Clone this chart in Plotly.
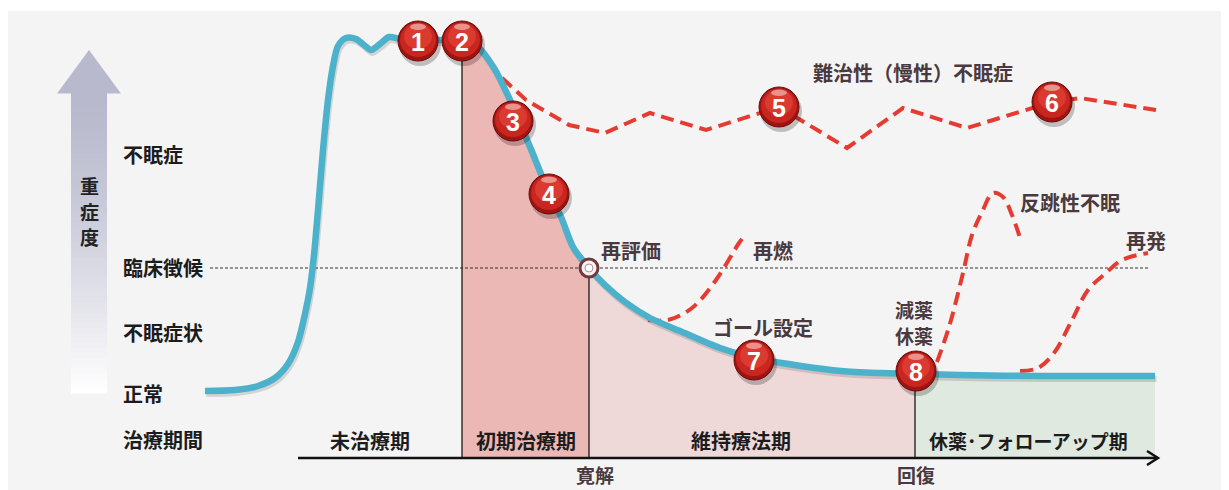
import plotly.graph_objects as go

# ---------------- data (pixel-space diagram coordinates) ----------------
# main severity curve (blue)
curve_x = [205, 235, 258, 275, 288, 298, 305, 310, 314, 318, 323, 328, 333, 338, 346, 356, 364, 371, 380, 389, 400, 420, 440, 462,
           478, 494, 510, 530, 549, 561, 573, 589, 605, 625, 650, 680, 720, 754, 801, 841, 880, 915, 960, 1040, 1155]
curve_y = [391, 390, 386, 378, 364, 342, 314, 288, 255, 210, 150, 100, 66, 46, 38, 39, 45, 50, 44, 37, 39, 40, 40, 41,
           47, 68, 100, 147, 193, 217, 247, 268, 285, 302, 318, 331, 348, 358, 366, 371, 373, 374, 375, 376, 376]

# chronic (refractory) insomnia dashed line
chronic_x = [502, 526, 569, 605, 650, 706, 779, 847, 903, 967, 1052, 1080, 1156]
chronic_y = [78, 100, 125, 133, 113, 130, 107, 148, 108, 128, 102, 98, 110]

# relapse (再燃)
relapse_x = [648, 668, 692, 716, 739, 745]
relapse_y = [320, 320, 308, 280, 243, 235]

# rebound insomnia (反跳性不眠)
rebound_x = [937, 949, 963, 972, 982, 993, 1003, 1012, 1020]
rebound_y = [362, 327, 273, 235, 212, 193, 197, 215, 238]

# recurrence (再発)
recur_x = [1020, 1038, 1054, 1072, 1088, 1106, 1122, 1148]
recur_y = [371, 368, 353, 320, 290, 273, 260, 253]

# numbered milestones
ball_labels = ["1", "2", "3", "4", "5", "6", "7", "8"]
ball_x = [418, 462, 513, 549, 779, 1052, 754, 916]
ball_y = [41, 41, 121, 194, 107, 102, 360, 371]

# severity levels (left labels)
level_labels = ["不眠症", "臨床徴候", "不眠症状", "正常", "治療期間"]
level_y = [154, 267, 332, 393, 439]

# treatment periods
period_labels = ["未治療期", "初期治療期", "維持療法期", "休薬･フォローアップ期"]
period_x = [370, 526, 741, 1028]
period_size = [20, 20, 20, 19]
period_bounds = [462, 589, 915]

# axis milestones
milestone_labels = ["寛解", "回復"]
milestone_x = [595, 916]

# curve annotations
note_labels = ["難治性（慢性）不眠症", "再評価", "再燃", "ゴール設定", "減薬", "休薬", "反跳性不眠", "再発"]
note_x = [913, 599, 751, 763, 914, 914, 1018, 1124]
note_y = [72, 250, 250, 327, 309, 335, 202, 240]
note_anchor = ["center", "left", "left", "center", "center", "center", "left", "left"]

reval_x = [589]
reval_y = [268]

# ---------------- figure ----------------
BLUE = "#4cb1cb"
RED = "#e53b30"
JP = "Noto Sans CJK JP"
LBL = "#4a3a40"
OFF = 8  # page body margin; axes ranges map data units to page pixels

fig = go.Figure()
shapes = []

# background panel
shapes.append(dict(type="rect", x0=7, x1=1229, y0=11, y1=490, fillcolor="#f4f4f4",
                   line=dict(width=0), layer="below"))

# gradient severity arrow
top, bot = 93, 393
n = 60
for i in range(n):
    f = i / (n - 1)
    g = f ** 1.4
    r = int(184 + (255 - 184) * g)
    gg = int(185 + (255 - 185) * g)
    b = int(204 + (255 - 204) * g)
    y0 = top + (bot - top) * i / n
    y1 = top + (bot - top) * (i + 1) / n + 0.6
    shapes.append(dict(type="rect", x0=71, x1=107, y0=y0, y1=y1,
                       fillcolor=f"rgb({r},{gg},{b})", line=dict(width=0), layer="below"))
shapes.append(dict(type="path", path="M 57 93.5 L 89 50 L 121 93.5 Z", fillcolor="rgb(184,185,204)",
                   line=dict(width=0), layer="below"))

# green follow-up region
shapes.append(dict(type="rect", x0=915, x1=1155, y0=376, y1=458, fillcolor="#dfe9df",
                   line=dict(width=0), layer="below"))

# fills under the curve
def seg(x0, x1):
    xs, ys = [], []
    for x, y in zip(curve_x, curve_y):
        if x0 <= x <= x1:
            xs.append(x)
            ys.append(y)
    return xs, ys

for (a, b_, col) in [(period_bounds[0], period_bounds[1], "#ecb8b6"),
                     (period_bounds[1], period_bounds[2], "#efd8d8")]:
    fig.add_trace(go.Scatter(x=[a, b_], y=[458, 458], mode="lines", line=dict(width=0),
                             hoverinfo="skip", showlegend=False))
    sx, sy = seg(a, b_)
    fig.add_trace(go.Scatter(x=sx, y=sy, mode="lines", line=dict(width=0, shape="spline", smoothing=0.8),
                             fill="tonexty", fillcolor=col, hoverinfo="skip", showlegend=False))

# clinical threshold dashed line
fig.add_trace(go.Scatter(x=[210, 1148], y=[reval_y[0], reval_y[0]], mode="lines",
                         line=dict(color="#333", width=1, dash="3px,2px"),
                         hoverinfo="skip", showlegend=False))

# period boundaries
tops = [41, 268, 371]
for xb, t in zip(period_bounds, tops):
    fig.add_trace(go.Scatter(x=[xb, xb], y=[t, 458], mode="lines",
                             line=dict(color="#1a1a1a", width=1.3), hoverinfo="skip", showlegend=False))

# time axis
fig.add_trace(go.Scatter(x=[298, 1157], y=[458, 458], mode="lines",
                         line=dict(color="#111", width=2.5), hoverinfo="skip", showlegend=False))
fig.add_trace(go.Scatter(x=[1147, 1158, 1147], y=[451, 458, 465], mode="lines",
                         line=dict(color="#111", width=2.5), hoverinfo="skip", showlegend=False))

# dashed red scenario lines
for xs, ys, shp in [(chronic_x, chronic_y, "linear"), (relapse_x, relapse_y, "spline"),
                    (rebound_x, rebound_y, "spline"), (recur_x, recur_y, "spline")]:
    fig.add_trace(go.Scatter(x=xs, y=ys, mode="lines",
                             line=dict(color=RED, width=4, dash="13px,7px", shape=shp),
                             hoverinfo="skip", showlegend=False))

# blue curve with soft shadow
fig.add_trace(go.Scatter(x=[x + 1.5 for x in curve_x], y=[y + 3 for y in curve_y], mode="lines",
                         line=dict(color="rgba(60,60,60,0.18)", width=6, shape="spline", smoothing=0.8),
                         hoverinfo="skip", showlegend=False))
fig.add_trace(go.Scatter(x=curve_x, y=curve_y, mode="lines",
                         line=dict(color=BLUE, width=6.5, shape="spline", smoothing=0.8),
                         hoverinfo="skip", showlegend=False))

# re-evaluation marker
fig.add_trace(go.Scatter(x=reval_x, y=reval_y, mode="markers",
                         marker=dict(size=18, color="#f6f0f0", line=dict(color="#6e3a40", width=3)),
                         hoverinfo="skip", showlegend=False))
fig.add_trace(go.Scatter(x=reval_x, y=reval_y, mode="markers",
                         marker=dict(size=8, color="white", line=dict(color="#b09095", width=1)),
                         hoverinfo="skip", showlegend=False))

# glossy numbered balls
R = 20
for cx, cy in zip(ball_x, ball_y):
    shapes.append(dict(type="circle", x0=cx - R + 1, x1=cx + R + 3, y0=cy - R + 3, y1=cy + R + 5,
                       fillcolor="rgba(0,0,0,0.22)", line=dict(width=0), layer="above"))
    shapes.append(dict(type="circle", x0=cx - R, x1=cx + R, y0=cy - R, y1=cy + R,
                       fillcolor="#9c1512", line=dict(color="#6e0c0a", width=1), layer="above"))
    shapes.append(dict(type="circle", x0=cx - R + 2, x1=cx + R - 2, y0=cy - R + 1.5, y1=cy + R - 4,
                       fillcolor="#c9261f", line=dict(width=0), layer="above"))
    shapes.append(dict(type="circle", x0=cx - R + 6, x1=cx + R - 6, y0=cy - R + 3, y1=cy + R - 12,
                       fillcolor="#db3a30", line=dict(width=0), layer="above"))
    shapes.append(dict(type="circle", x0=cx - 8, x1=cx + 8, y0=cy - R + 2.5, y1=cy - R + 9,
                       fillcolor="rgba(255,255,255,0.45)", line=dict(width=0), layer="above"))

annotations = []
for lbl, cx, cy in zip(ball_labels, ball_x, ball_y):
    annotations.append(dict(x=cx, y=cy + 1, text=lbl, showarrow=False, xanchor="center", yanchor="middle",
                            font=dict(family="Liberation Sans, Arial", size=25, color="white", weight="bold")))

# vertical axis caption
for ch, yy in zip(["重", "症", "度"], [185, 211, 236]):
    annotations.append(dict(x=89, y=yy, text=ch, showarrow=False, xanchor="center", yanchor="middle",
                            font=dict(family=JP, size=19, color="#222", weight="bold")))

for lbl, yy in zip(level_labels, level_y):
    annotations.append(dict(x=121, y=yy, text=lbl, showarrow=False, xanchor="left", yanchor="middle",
                            font=dict(family=JP, size=20, color="#1c1c1c", weight="bold")))

for lbl, xx, sz in zip(period_labels, period_x, period_size):
    annotations.append(dict(x=xx, y=440, text=lbl, showarrow=False, xanchor="center", yanchor="middle",
                            font=dict(family=JP, size=sz, color="#1c1c1c", weight="bold")))

for lbl, xx in zip(milestone_labels, milestone_x):
    annotations.append(dict(x=xx, y=474, text=lbl, showarrow=False, xanchor="center", yanchor="middle",
                            font=dict(family=JP, size=19, color=LBL, weight="bold")))

for lbl, xx, yy, an in zip(note_labels, note_x, note_y, note_anchor):
    sz = 19 if lbl in ("減薬", "休薬") else 20
    annotations.append(dict(x=xx, y=yy, text=lbl, showarrow=False, xanchor=an, yanchor="middle",
                            font=dict(family=JP, size=sz, color=LBL, weight="bold")))

fig.update_layout(
    width=1229 - OFF, height=490 - OFF,
    margin=dict(l=0, r=0, t=0, b=0),
    paper_bgcolor="white", plot_bgcolor="white",
    xaxis=dict(range=[OFF, 1229], visible=False, fixedrange=True),
    yaxis=dict(range=[490, OFF], visible=False, fixedrange=True),
    shapes=shapes, annotations=annotations, showlegend=False,
)

fig.write_html("out.html")
